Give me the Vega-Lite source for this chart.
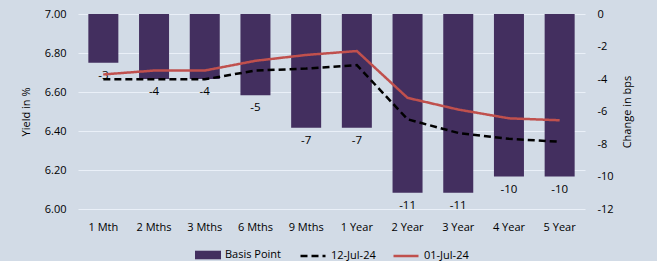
{
  "$schema": "https://vega.github.io/schema/vega-lite/v6.json",
  "width": 507,
  "height": 195,
  "autosize": "none",
  "padding": {"left": 78, "top": 14, "right": 72, "bottom": 52},
  "background": "#d2dbe6",
  "config": {
    "font": "Open Sans",
    "view": {"stroke": null},
    "axis": {
      "labelFont": "Open Sans",
      "titleFont": "Open Sans",
      "labelFontSize": 11,
      "titleFontSize": 11,
      "titleFontWeight": "normal",
      "labelColor": "#000000",
      "titleColor": "#000000",
      "domain": false,
      "ticks": false,
      "labelOverlap": false
    },
    "legend": {
      "labelFont": "Open Sans",
      "labelFontSize": 11,
      "labelColor": "#000000",
      "layout": {"bottom": {"anchor": "middle", "direction": "horizontal", "margin": 17}}
    }
  },
  "data": {
    "values": [
      {"tenor": "1 Mth", "bp": -3, "12-Jul-24": 6.665, "01-Jul-24": 6.69},
      {"tenor": "2 Mths", "bp": -4, "12-Jul-24": 6.665, "01-Jul-24": 6.71},
      {"tenor": "3 Mths", "bp": -4, "12-Jul-24": 6.665, "01-Jul-24": 6.71},
      {"tenor": "6 Mths", "bp": -5, "12-Jul-24": 6.71, "01-Jul-24": 6.76},
      {"tenor": "9 Mths", "bp": -7, "12-Jul-24": 6.72, "01-Jul-24": 6.79},
      {"tenor": "1 Year", "bp": -7, "12-Jul-24": 6.738, "01-Jul-24": 6.81},
      {"tenor": "2 Year", "bp": -11, "12-Jul-24": 6.46, "01-Jul-24": 6.57},
      {"tenor": "3 Year", "bp": -11, "12-Jul-24": 6.39, "01-Jul-24": 6.51},
      {"tenor": "4 Year", "bp": -10, "12-Jul-24": 6.36, "01-Jul-24": 6.465},
      {"tenor": "5 Year", "bp": -10, "12-Jul-24": 6.345, "01-Jul-24": 6.455}
    ]
  },
  "layer": [
    {
      "layer": [
        {
          "mark": {"type": "bar", "width": 30},
          "encoding": {
            "x": {
              "field": "tenor", "type": "nominal", "sort": null,
              "scale": {"paddingInner": 0.4, "paddingOuter": 0.2},
              "axis": {"title": null, "labelAngle": 0, "labelPadding": 12}
            },
            "y": {
              "field": "bp", "type": "quantitative",
              "scale": {"domain": [-12, 0], "nice": false},
              "axis": {"orient": "right", "title": "Change in bps", "titleAngle": 270, "values": [0, -2, -4, -6, -8, -10, -12], "tickCount": 7, "labelExpr": "'' + datum.value", "labelOverlap": false, "grid": false, "labelPadding": 12, "titlePadding": 19}
            },
            "fill": {
              "datum": "Basis Point",
              "scale": {"domain": ["Basis Point"], "range": ["#432f5f"]},
              "legend": {"orient": "bottom", "title": null, "symbolType": "M-1,-0.33H1V0.33H-1Z", "symbolSize": 676, "symbolStrokeWidth": 0, "offset": 10, "labelOffset": 4}
            }
          }
        },
        {
          "mark": {"type": "text", "baseline": "top", "dy": 7, "fontSize": 11.5, "color": "#000000"},
          "encoding": {
            "x": {"field": "tenor", "type": "nominal", "sort": null},
            "y": {"field": "bp", "type": "quantitative"},
            "text": {"field": "bp", "type": "nominal"}
          }
        }
      ]
    },
    {
      "transform": [{"fold": ["12-Jul-24", "01-Jul-24"], "as": ["series", "yield"]}],
      "mark": {"type": "line", "strokeWidth": 2.5},
      "encoding": {
        "x": {"field": "tenor", "type": "nominal", "sort": null},
        "y": {
          "field": "yield", "type": "quantitative",
          "scale": {"domain": [6, 7], "nice": false, "zero": false},
          "axis": {"orient": "left", "title": "Yield  in  %", "values": [6, 6.2, 6.4, 6.6, 6.8, 7], "tickCount": 6, "format": ".2f", "labelOverlap": false, "grid": true, "gridColor": "#eaf0f8", "gridWidth": 1, "labelPadding": 12, "titlePadding": 13}
        },
        "stroke": {
          "field": "series", "type": "nominal",
          "scale": {"domain": ["12-Jul-24", "01-Jul-24"], "range": ["#000000", "#c0504d"]},
          "legend": {"orient": "bottom", "title": null, "symbolType": "stroke", "symbolSize": 625, "symbolStrokeWidth": 2.5, "columnPadding": 12, "offset": 10, "labelOffset": 4}
        },
        "strokeDash": {
          "field": "series", "type": "nominal",
          "scale": {"domain": ["12-Jul-24", "01-Jul-24"], "range": [[7, 4], [1, 0]]},
          "legend": {"orient": "bottom", "title": null, "symbolType": "stroke", "symbolSize": 625, "symbolStrokeWidth": 2.5, "columnPadding": 12, "offset": 10, "labelOffset": 4}
        }
      }
    }
  ],
  "resolve": {"scale": {"y": "independent"}}
}
